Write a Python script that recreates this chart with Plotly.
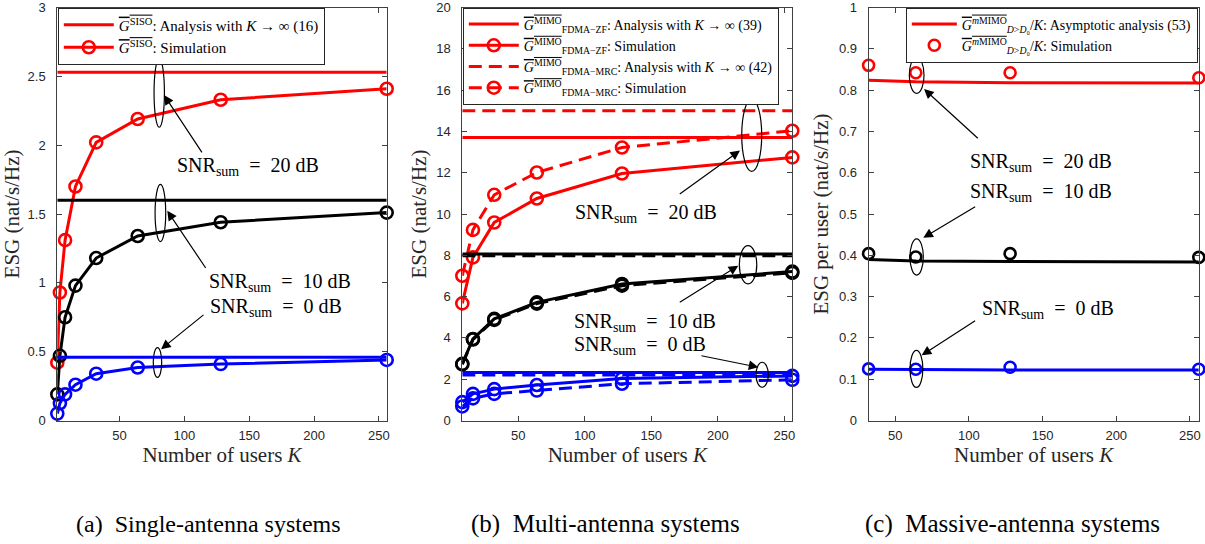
import plotly.graph_objects as go

# ---------------- data ----------------
# (a) single-antenna systems
K_a = [2, 4, 8, 16, 32, 64, 128, 256]
a_sim_20 = [0.42, 0.93, 1.31, 1.70, 2.02, 2.19, 2.33, 2.41]
a_sim_10 = [0.19, 0.47, 0.75, 0.98, 1.18, 1.34, 1.44, 1.51]
a_sim_0 = [0.05, 0.125, 0.19, 0.26, 0.34, 0.385, 0.41, 0.44]
a_asym_20 = 2.53
a_asym_10 = 1.60
a_asym_0 = 0.46

# (b) multi-antenna systems
K_b = [8, 16, 32, 64, 128, 256]
b_zf_sim_20 = [5.67, 7.90, 9.59, 10.75, 11.96, 12.74]
b_mrc_sim_20 = [7.01, 9.23, 10.93, 12.01, 13.22, 14.03]
b_zf_sim_10 = [2.74, 3.95, 4.92, 5.72, 6.61, 7.21]
b_mrc_sim_10 = [2.72, 3.92, 4.87, 5.66, 6.53, 7.15]
b_zf_sim_0 = [0.89, 1.29, 1.52, 1.72, 2.03, 2.16]
b_mrc_sim_0 = [0.68, 1.07, 1.29, 1.45, 1.78, 1.97]
b_zf_asym_20, b_mrc_asym_20 = 13.70, 15.00
b_zf_asym_10, b_mrc_asym_10 = 8.06, 7.98
b_zf_asym_0, b_mrc_asym_0 = 2.33, 2.20

# (c) massive-antenna systems (per user)
K_c = [32, 64, 128, 256]
c_ana_20 = [0.824, 0.820, 0.818, 0.817]
c_sim_20 = [0.860, 0.842, 0.842, 0.830]
c_ana_10 = [0.390, 0.386, 0.385, 0.384]
c_sim_10 = [0.404, 0.396, 0.404, 0.395]
c_ana_0 = [0.124, 0.123, 0.122, 0.122]
c_sim_0 = [0.125, 0.124, 0.129, 0.124]

x_ticks = [50, 100, 150, 200, 250]
ya_ticks = [0, 0.5, 1, 1.5, 2, 2.5, 3]
ya_text = ["0", "0.5", "1", "1.5", "2", "2.5", "3"]
yb_ticks = [0, 2, 4, 6, 8, 10, 12, 14, 16, 18, 20]
yc_ticks = [0, 0.1, 0.2, 0.3, 0.4, 0.5, 0.6, 0.7, 0.8, 0.9, 1]
yc_text = ["0", "0.1", "0.2", "0.3", "0.4", "0.5", "0.6", "0.7", "0.8", "0.9", "1"]

RED, BLACK, BLUE = "#ff0000", "#000000", "#0000ff"
SERIF = "Liberation Serif, Times New Roman, serif"
SANS = "Liberation Sans, Arial, sans-serif"
DASH = "13px,7px"
OL = "<span style='text-decoration:overline'>"


def sup(t, fs):
    return f"<span style='font-size:{0.7 * fs:.1f}px;baseline-shift:{0.42 * fs:.1f}px'>{t}</span>"


def sub(t, fs):
    return f"<span style='font-size:{0.7 * fs:.1f}px;baseline-shift:-{0.22 * fs:.1f}px'>{t}</span>"


fig = go.Figure()


def line(x, y, color, xa, ya, dash="solid", markers=False, name=None, legend="legend",
         msize=12, mode=None):
    if mode is None:
        mode = "lines+markers" if markers else "lines"
    fig.add_trace(go.Scatter(
        x=x, y=y, mode=mode, xaxis=xa, yaxis=ya,
        line=dict(color=color, width=3, dash=dash),
        marker=dict(symbol="circle-open", size=msize, color=color, line=dict(width=2.6, color=color)),
        name=name or "", showlegend=name is not None, legend=legend, cliponaxis=False,
        hoverinfo="skip"))


# ---- panel (a)
FA = 15
gsiso = f"{OL}<i>G</i>{sup('SISO', FA)}</span>"
ends_a = [K_a[0], K_a[-1]]
line(ends_a, [a_asym_20] * 2, RED, "x", "y",
     name=f"{gsiso}: Analysis with <i>K</i> → ∞ (16)")
line(K_a, a_sim_20, RED, "x", "y", markers=True, name=f"{gsiso}: Simulation")
line(ends_a, [a_asym_10] * 2, BLACK, "x", "y")
line(K_a, a_sim_10, BLACK, "x", "y", markers=True)
line(ends_a, [a_asym_0] * 2, BLUE, "x", "y")
line(K_a, a_sim_0, BLUE, "x", "y", markers=True)

# ---- panel (b)
FB = 14
ends_b = [K_b[0], K_b[-1]]
gzf = f"{OL}<i>G</i>{sup('MIMO', FB)}</span>{sub('FDMA−ZF', FB)}"
gmrc = f"{OL}<i>G</i>{sup('MIMO', FB)}</span>{sub('FDMA−MRC', FB)}"
line(ends_b, [b_zf_asym_20] * 2, RED, "x2", "y2", legend="legend2",
     name=f"{gzf}: Analysis with <i>K</i> → ∞ (39)")
line(K_b, b_zf_sim_20, RED, "x2", "y2", markers=True, legend="legend2",
     name=f"{gzf}: Simulation")
line(ends_b, [b_mrc_asym_20] * 2, RED, "x2", "y2", dash=DASH, legend="legend2",
     name=f"{gmrc}: Analysis with <i>K</i> → ∞ (42)")
line(K_b, b_mrc_sim_20, RED, "x2", "y2", dash=DASH, markers=True, legend="legend2",
     name=f"{gmrc}: Simulation")
for zf_a, mrc_a, zf_s, mrc_s, col in [
        (b_zf_asym_10, b_mrc_asym_10, b_zf_sim_10, b_mrc_sim_10, BLACK),
        (b_zf_asym_0, b_mrc_asym_0, b_zf_sim_0, b_mrc_sim_0, BLUE)]:
    line(ends_b, [zf_a] * 2, col, "x2", "y2")
    line(K_b, zf_s, col, "x2", "y2", markers=True)
    line(ends_b, [mrc_a] * 2, col, "x2", "y2", dash=DASH)
    line(K_b, mrc_s, col, "x2", "y2", dash=DASH, markers=True)

# ---- panel (c)
FC = 14
gm = (f"{OL}<i>G</i>{sup('<i>m</i>MIMO', FC)}</span>"
      f"{sub('<i>D</i>&gt;<i>D</i>₀', FC)}/<i>K</i>")
line(K_c, c_ana_20, RED, "x3", "y3", legend="legend3",
     name=f"{gm}: Asymptotic analysis (53)")
line(K_c, c_sim_20, RED, "x3", "y3", mode="markers", msize=11, legend="legend3",
     name=f"{gm}: Simulation")
line(K_c, c_ana_10, BLACK, "x3", "y3")
line(K_c, c_sim_10, BLACK, "x3", "y3", mode="markers", msize=11)
line(K_c, c_ana_0, BLUE, "x3", "y3")
line(K_c, c_sim_0, BLUE, "x3", "y3", mode="markers", msize=11)

# ---------------- annotations (ellipses, arrows, labels) ----------------
shapes = []
annotations = []


def ellipse(xr, yr, x0, x1, y0, y1):
    shapes.append(dict(type="circle", xref=xr, yref=yr, x0=x0, x1=x1, y0=y0, y1=y1,
                       line=dict(color="black", width=1.2)))


def arrow(xr, yr, tx, ty, hx, hy):
    annotations.append(dict(xref=xr, yref=yr, axref=xr, ayref=yr, x=hx, y=hy, ax=tx, ay=ty,
                            text="", showarrow=True, arrowhead=2, arrowsize=1.6,
                            arrowwidth=1.2, arrowcolor="black", standoff=0, startstandoff=0))


FS = 20


def label(xr, yr, x, y, snr):
    annotations.append(dict(xref=xr, yref=yr, x=x, y=y, xanchor="left", yanchor="middle",
                            text=f"SNR{sub('sum', FS)}\u2002=\u2002{snr} dB", showarrow=False,
                            font=dict(family=SERIF, size=FS, color="black")))


# (a)
ellipse("x", "y", 76.6, 84.6, 2.13, 2.63)
ellipse("x", "y", 77.4, 85.6, 1.30, 1.715)
ellipse("x", "y", 76.0, 82.5, 0.313, 0.53)
arrow("x", "y", 114.3, 1.937, 84.3, 2.364)
arrow("x", "y", 117.2, 1.097, 86.8, 1.523)
arrow("x", "y", 115.9, 0.776, 82.0, 0.518)
label("x", "y", 92.9, 1.843, 20)
label("x", "y", 117.2, 1.0, 10)
label("x", "y", 118.4, 0.819, 0)
# (b)
ellipse("x2", "y2", 218.0, 233.0, 12.06, 15.57)
ellipse("x2", "y2", 216.2, 229.3, 6.62, 8.47)
ellipse("x2", "y2", 228.7, 238.0, 1.61, 2.82)
arrow("x2", "y2", 170.3, 10.92, 216.7, 13.07)
arrow("x2", "y2", 170.3, 5.68, 215.4, 7.50)
arrow("x2", "y2", 186.6, 3.15, 230.5, 2.58)
label("x2", "y2", 91.2, 10.02, 20)
label("x2", "y2", 90.2, 4.76, 10)
label("x2", "y2", 90.2, 3.63, 0)
# (c)
ellipse("x3", "y3", 59.6, 69.6, 0.792, 0.880)
ellipse("x3", "y3", 60.1, 69.1, 0.352, 0.440)
ellipse("x3", "y3", 60.1, 68.8, 0.080, 0.170)
arrow("x3", "y3", 107.1, 0.680, 69.6, 0.8025)
arrow("x3", "y3", 105.3, 0.520, 69.1, 0.4425)
arrow("x3", "y3", 105.3, 0.244, 68.0, 0.158)
label("x3", "y3", 99.6, 0.624, 20)
label("x3", "y3", 99.6, 0.552, 10)
label("x3", "y3", 107.6, 0.268, 0)

# captions
for cx, size, txt in [(208.5, 24, "(a)\u2002Single-antenna systems"),
                      (605.5, 25, "(b)\u2002Multi-antenna systems"),
                      (1012, 25, "(c)\u2002Massive-antenna systems")]:
    annotations.append(dict(xref="paper", yref="paper", x=cx / 1205, y=1 - 524 / 544,
                            xanchor="center", yanchor="middle", text=txt, showarrow=False,
                            font=dict(family=SERIF, size=size, color="black")))

# ---------------- layout ----------------
W, H = 1205, 544
TOP = 7.5
ydom = [1 - 420.5 / H, 1 - TOP / H]
AX = "#404040"


def xaxis(dom, rng, anchor):
    return dict(domain=dom, range=rng, anchor=anchor, tickvals=x_ticks, automargin=False,
                showline=True, linecolor=AX, linewidth=1, mirror="ticks", ticks="inside",
                ticklen=5, tickcolor=AX, showgrid=False, zeroline=False,
                ticklabelstandoff=3, ticklabeloverflow="allow",
                tickfont=dict(family=SANS, size=13, color="#262626"),
                title=dict(text="Number of users <i>K</i>", standoff=2,
                           font=dict(family=SERIF, size=21, color="#262626")))


def yaxis(rng, anchor, vals, text, title, standoff):
    return dict(domain=ydom, range=rng, anchor=anchor, tickvals=vals, ticktext=text,
                automargin=False,
                showline=True, linecolor=AX, linewidth=1, mirror="ticks", ticks="inside",
                ticklen=5, tickcolor=AX, showgrid=False, zeroline=False,
                ticklabelstandoff=8, ticklabeloverflow="allow",
                tickfont=dict(family=SANS, size=13, color="#262626"),
                title=dict(text=title, standoff=standoff,
                           font=dict(family=SERIF, size=21, color="#262626")))


def legend(x, size, xanchor="left", iw=50):
    return dict(x=x, y=1 - TOP / H, xanchor=xanchor, yanchor="top", bgcolor="white",
                bordercolor="#262626", borderwidth=1, itemwidth=iw, tracegroupgap=0,
                font=dict(family=SERIF, size=size, color="black"))


fig.update_layout(
    width=W, height=H, margin=dict(l=0, r=0, t=0, b=0, autoexpand=False),
    paper_bgcolor="white", plot_bgcolor="white",
    xaxis=xaxis([57.3 / W, 386.7 / W], [2, 256], "y"),
    xaxis2=xaxis([462.3 / W, 792.3 / W], [8, 256], "y2"),
    xaxis3=xaxis([868.6 / W, 1198.8 / W], [32, 256], "y3"),
    yaxis=yaxis([0, 3], "x", ya_ticks, ya_text, "ESG (nat/s/Hz)", 5),
    yaxis2=yaxis([0, 20], "x2", yb_ticks, [str(v) for v in yb_ticks], "ESG (nat/s/Hz)", 3),
    yaxis3=yaxis([0, 1], "x3", yc_ticks, yc_text, "ESG per user (nat/s/Hz)", 4),
    legend=legend(57.8 / W, FA), legend2=legend(462.8 / W, FB),
    legend3=legend(1197.8 / W, FC, xanchor="right", iw=45),
    shapes=shapes, annotations=annotations, showlegend=True,
)

fig.write_html("out.html", config={"displayModeBar": False},
               post_script="document.body.style.margin='0';document.body.style.overflow='hidden';")
